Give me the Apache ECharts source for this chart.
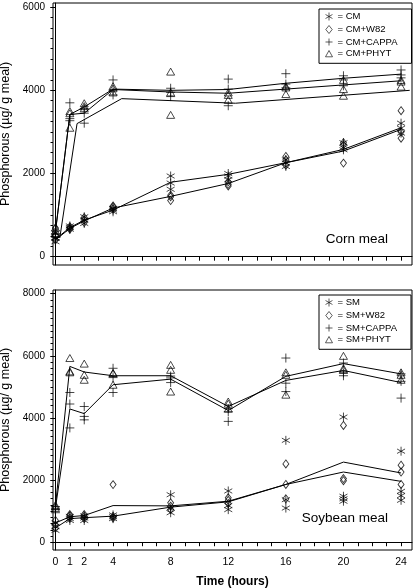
<!DOCTYPE html>
<html><head><meta charset="utf-8">
<script src="https://cdn.jsdelivr.net/npm/echarts@6/dist/echarts.min.js"></script>
<style>html,body{margin:0;padding:0;background:#fff}#c{width:415px;height:588px}</style>
</head><body><div id="c"></div>
<script>
// ---------- data ----------
const hours = [0, 1, 2, 4, 8, 12, 16, 20, 24];
const xTickValues = [0,1,2,3,4,5,6,7,8,9,10,11,12,13,14,15,16,17,18,19,20,21,22,23,24];
const xLabelValues = [0, 1, 2, 4, 8, 12, 16, 20, 24];
const cornLabelValues = [0, 2000, 4000, 6000];
const soyLabelValues = [0, 2000, 4000, 6000, 8000];

// Corn meal replicates (µg/g meal), one list per time point
const cmRep      = [[360,450,570],[660,700,740],[800,880,960],[1080,1120,1160],[1620,1770,1940],[1850,1940,2000],[2170,2250,2330],[2570,2620,2740],[2970,3090,3210]];
const cmW82Rep   = [[400,500,690],[660,690,720],[820,880,940],[1150,1200,1220],[1350,1440,1480],[1700,1740,1800],[2200,2330,2410],[2250,2690,2740],[2850,3000,3510]];
const cmCappaRep = [[400,480,550],[3270,3320,3700],[3210,3450,3560],[3890,4000,4250],[3850,3950,4050],[3630,4030,4270],[4060,4150,4400],[4110,4250,4350],[4300,4370,4490]];
const cmPhytRep  = [[550,620,700],[3100,3450,3500],[3570,3620,3690],[3950,4050,4100],[3410,3950,4450],[3770,3890,3950],[3910,4070,4100],[3870,4030,4250],[4090,4210,4250]];
// Corn meal mean lines
const cmMean      = [420,700,880,1120,1790,1980,2260,2580,3100];
const cmW82Mean   = [400,680,860,1170,1450,1760,2260,2540,3060];
const cmPhytMean  = [600,3420,3600,4030,4000,4020,4170,4290,4390];
const cmCappaMean = [600,3420,3450,4020,3960,3930,4030,4130,4230];
// third upper line, drawn shifted in time in the original
const cmShiftHours = [0.3, 1.5, 4.6, 12.5, 24.6];
const cmShiftMean  = [450, 3200, 3800, 3690, 4000];

// Soybean meal replicates
const smRep      = [[380,500,620],[700,760,830],[700,780,850],[760,820,880],[950,1100,1530],[1050,1180,1650],[1100,1370,3280],[1320,1400,1480,4030],[1350,1500,1640,2930]];
const smW82Rep   = [[450,560,700],[780,850,890],[760,830,890],[780,830,1855],[1050,1160,1270],[1250,1350,1430],[1400,1860,2520],[1980,2050,3760],[1860,2260,2480]];
const smCappaRep = [[950,1050,1150],[3680,4450,4820],[3940,4050,4370],[4820,5300,5600],[5140,5290,5350],[3890,4200,4300],[4850,5120,5930],[5360,5450,5770],[4640,5180,5420]];
const smPhytRep  = [[1100,1160,1200],[5470,5500,5930],[5230,5390,5750],[5070,5440,5450],[4850,5550,5710],[4300,4460,4530],[4750,5390,5470],[5550,5600,6000],[5230,5390,5470]];
// Soybean meal mean lines
const smMean      = [620,820,860,1180,1170,1320,1860,2580,2230];
const smW82Mean   = [460,760,790,840,1130,1300,1860,2260,1960];
const smCappaMean = [1100,4290,4140,5070,5250,4240,5340,5750,5420];
const smPhytMean  = [1160,5660,5480,5360,5360,4370,5210,5530,5140];

// ---------- helpers ----------
const FONT = 'Liberation Sans, Arial, sans-serif';
const SYM = {
  star: 'path://M0,-5L0,5M-4.33,-2.5L4.33,2.5M-4.33,2.5L4.33,-2.5',
  diamond: 'path://M0,-5L4,0L0,5L-4,0Z',
  plus: 'path://M0,-5L0,5M-5,0L5,0',
  tri: 'path://M0,-5L5,4L-5,4Z'
};
const SIZE = { star: [8, 9], diamond: [6, 8], plus: [9, 9], tri: [8, 7] };
function repData(rep) { const d = []; hours.forEach((h, i) => rep[i].forEach(v => d.push([h, v]))); return d; }
function scatter(name, rep, sym, g) {
  return { type: 'scatter', name, xAxisIndex: g, yAxisIndex: g * 2, data: repData(rep),
    symbol: SYM[sym], symbolSize: SIZE[sym], symbolKeepAspect: false,
    itemStyle: { color: 'none', borderColor: '#000', borderWidth: 0.9 }, z: 3, silent: true };
}
function line(name, xs, ys, g) {
  return { type: 'line', name, xAxisIndex: g, yAxisIndex: g * 2, data: xs.map((x, i) => [x, ys[i]]),
    symbol: 'none', showSymbol: false, lineStyle: { color: '#000', width: 1 }, z: 2, silent: true };
}
function range(a, b, s) { const r = []; for (let v = a; v <= b + 1e-9; v += s) r.push(v); return r; }

const yName = 'Phosphorous (µg/ g meal)';
function yMajor(g, min, max, labels) {
  return { type: 'value', gridIndex: g, position: 'left', min, max, name: yName, nameLocation: 'middle', nameGap: 37,
    nameTextStyle: { fontSize: 12.5, color: '#000', fontFamily: FONT },
    axisLine: { show: true, lineStyle: { color: '#000', width: 1 } },
    axisTick: { show: true, length: 5, customValues: labels, lineStyle: { color: '#000' } },
    axisLabel: { customValues: labels, fontSize: 10, color: '#000', margin: 8, fontFamily: FONT, formatter: v => String(v) },
    splitLine: { show: false } };
}
function yMinor(g, min, max, vals) {
  return { type: 'value', gridIndex: g, position: 'left', offset: 0, min, max,
    axisLine: { show: false }, axisLabel: { show: false }, splitLine: { show: false },
    axisTick: { show: true, length: 2.5, customValues: vals, lineStyle: { color: '#000' } } };
}
function xAx(g, showLabels) {
  return { type: 'value', gridIndex: g, min: -0.17, max: 24.76,
    name: showLabels ? 'Time (hours)' : '', nameLocation: 'middle', nameGap: 26,
    nameTextStyle: { fontSize: 12, fontWeight: 'bold', color: '#000', fontFamily: FONT },
    axisLine: { show: true, lineStyle: { color: '#000', width: 1 } },
    axisTick: { show: true, length: 4, customValues: xTickValues, lineStyle: { color: '#000' } },
    axisLabel: { show: showLabels, customValues: xLabelValues, fontSize: 10.5, color: '#000', margin: 7, fontFamily: FONT, formatter: v => String(v) },
    splitLine: { show: false } };
}
function legend(names, top) {
  return { data: names, orient: 'vertical', left: 319, top, padding: [1, 14, 4, 4],
    itemWidth: 7, itemHeight: 8, itemGap: 0, borderColor: '#000', borderWidth: 1,
    selectedMode: false, formatter: n => '= ' + n,
    itemStyle: { color: 'none', borderColor: '#000', borderWidth: 0.8 },
    textStyle: { fontSize: 9.5, lineHeight: 10, color: '#000', fontFamily: FONT } };
}

const chart = echarts.init(document.getElementById('c'), null, { renderer: 'canvas' });
chart.setOption({
  animation: false,
  textStyle: { fontFamily: FONT },
  grid: [
    { left: 53, right: 3, top: 3, height: 262, show: true, borderColor: '#000', borderWidth: 1, outerBoundsMode: 'none', containLabel: false },
    { left: 53, right: 3, top: 290, height: 260, show: true, borderColor: '#000', borderWidth: 1, outerBoundsMode: 'none', containLabel: false }
  ],
  xAxis: [xAx(0, false), xAx(1, true)],
  yAxis: [
    yMajor(0, -200, 6100, cornLabelValues), yMinor(0, -200, 6100, range(0, 6000, 250)),
    yMajor(1, -250, 8120, soyLabelValues), yMinor(1, -250, 8120, range(0, 8000, 200))
  ],
  title: [
    { text: 'Corn meal', right: 27, top: 232, padding: 0, textStyle: { fontSize: 13.5, fontWeight: 'normal', color: '#000', fontFamily: FONT } },
    { text: 'Soybean meal', right: 27, top: 511, padding: 0, textStyle: { fontSize: 13.5, fontWeight: 'normal', color: '#000', fontFamily: FONT } }
  ],
  legend: [
    legend(['CM', 'CM+W82', 'CM+CAPPA', 'CM+PHYT'], 9),
    legend(['SM', 'SM+W82', 'SM+CAPPA', 'SM+PHYT'], 295)
  ],
  series: [
    scatter('CM', cmRep, 'star', 0),
    scatter('CM+W82', cmW82Rep, 'diamond', 0),
    scatter('CM+CAPPA', cmCappaRep, 'plus', 0),
    scatter('CM+PHYT', cmPhytRep, 'tri', 0),
    line('CM mean', hours, cmMean, 0),
    line('CM+W82 mean', hours, cmW82Mean, 0),
    line('CM+PHYT mean', hours, cmPhytMean, 0),
    line('CM+CAPPA mean', hours, cmCappaMean, 0),
    line('CM shifted mean', cmShiftHours, cmShiftMean, 0),
    scatter('SM', smRep, 'star', 1),
    scatter('SM+W82', smW82Rep, 'diamond', 1),
    scatter('SM+CAPPA', smCappaRep, 'plus', 1),
    scatter('SM+PHYT', smPhytRep, 'tri', 1),
    line('SM mean', hours, smMean, 1),
    line('SM+W82 mean', hours, smW82Mean, 1),
    line('SM+CAPPA mean', hours, smCappaMean, 1),
    line('SM+PHYT mean', hours, smPhytMean, 1)
  ]
});
</script></body></html>
